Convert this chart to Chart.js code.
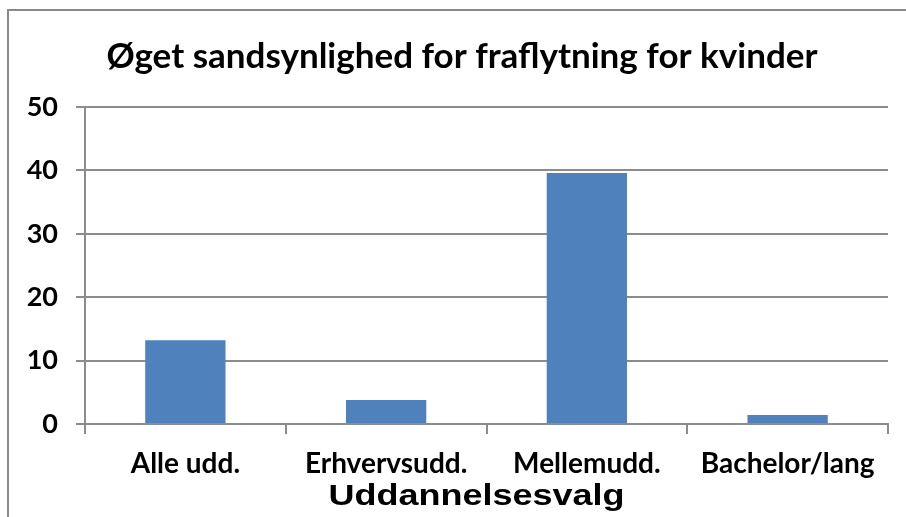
<!DOCTYPE html>
<html>
<head>
<meta charset="utf-8">
<script src="https://cdn.jsdelivr.net/npm/chart.js@4"></script>
<style>
html,body{margin:0;padding:0;background:#fff;}
#wrap{width:906px;height:517px;position:relative;}
</style>
</head>
<body>
<div id="wrap"><canvas id="c" width="906" height="517"></canvas></div>
<script>
const categories = ["Alle udd.", "Erhvervsudd.", "Mellemudd.", "Bachelor/lang"];
const values = [13.2, 3.8, 39.6, 1.4];
const yTicks = [0, 10, 20, 30, 40, 50];
const chartTitle = "Øget sandsynlighed for fraflytning for kvinder";
const xAxisTitle = "Uddannelsesvalg";

const frame = {
  id: 'frame',
  beforeDraw(chart) {
    const ctx = chart.ctx;
    ctx.save();
    ctx.fillStyle = '#fff';
    ctx.fillRect(0, 0, chart.width, chart.height);
    ctx.strokeStyle = '#8a8a8a';
    ctx.lineWidth = 2;
    ctx.beginPath();
    ctx.moveTo(8, chart.height);
    ctx.lineTo(8, 10);
    ctx.lineTo(chart.width, 10);
    ctx.stroke();
    ctx.restore();
  },
  afterDraw(chart) {
    const ctx = chart.ctx;
    const xs = chart.scales.x;
    ctx.save();
    // chart title
    ctx.font = 'bold 35px Lato, sans-serif';
    ctx.fillStyle = '#000';
    ctx.textAlign = 'center';
    ctx.textBaseline = 'middle';
    ctx.fillText(chartTitle, 462, 57);
    // stretched x-axis title, as in the reference
    ctx.font = 'bold 30px "Liberation Sans", Arial, sans-serif';
    ctx.textBaseline = 'alphabetic';
    const cx = (xs.left + xs.right) / 2 - 10;
    ctx.translate(cx, xs.bottom - 12);
    ctx.scale(1.2, 1);
    ctx.fillText(xAxisTitle, 0, 0);
    ctx.restore();
  }
};

const gridColor = '#8c8c8c';
new Chart(document.getElementById('c'), {
  type: 'bar',
  data: {
    labels: categories,
    datasets: [{
      data: values,
      backgroundColor: '#4F81BD',
      borderWidth: 0,
      categoryPercentage: 1.0,
      barPercentage: 0.4
    }]
  },
  options: {
    responsive: false,
    animation: false,
    devicePixelRatio: 1,
    layout: { padding: { left: 10, right: 18, top: 107, bottom: 0 } },
    plugins: {
      legend: { display: false },
      tooltip: { enabled: false },
      title: { display: false }
    },
    scales: {
      x: {
        afterFit(s) { s.height = 93; },
        grid: { display: true, drawOnChartArea: false, drawTicks: true, tickLength: 10, color: gridColor, lineWidth: 2, offset: true },
        border: { display: true, color: gridColor, width: 2 },
        ticks: { color: '#000', font: { family: 'Lato', weight: 'bold', size: 28 }, padding: 13, maxRotation: 0, autoSkip: false },
        title: { display: false, text: xAxisTitle }
      },
      y: {
        min: 0, max: 50,
        afterFit(s) { s.width = 75; },
        afterBuildTicks(s) { s.ticks = yTicks.map(v => ({ value: v })); },
        grid: { color: gridColor, lineWidth: 2, drawTicks: true, tickLength: 9 },
        border: { display: true, color: gridColor, width: 2 },
        ticks: { color: '#000', font: { family: 'Lato', weight: 'bold', size: 27 }, padding: 18 }
      }
    }
  },
  plugins: [frame]
});
</script>
</body>
</html>
